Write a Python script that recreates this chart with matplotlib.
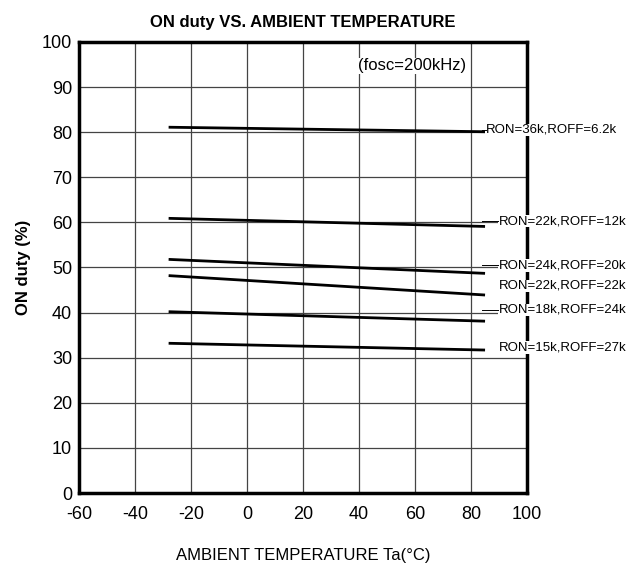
import matplotlib.pyplot as plt

plt.rcParams['font.family'] = ['Liberation Sans', 'DejaVu Sans']
plt.rcParams['axes.unicode_minus'] = False

# readings (start at -28C, end at 85C)
temps = [-28, 85]
duty_36k_6k2 = [81.1, 80.1]
duty_22k_12k = [60.9, 59.1]
duty_24k_20k = [51.8, 48.7]
duty_22k_22k = [48.2, 43.9]
duty_18k_24k = [40.2, 38.1]
duty_15k_27k = [33.2, 31.7]

series = [duty_36k_6k2, duty_22k_12k, duty_24k_20k, duty_22k_22k, duty_18k_24k, duty_15k_27k]
labels = ['RON=36k,ROFF=6.2k', 'RON=22k,ROFF=12k', 'RON=24k,ROFF=20k',
          'RON=22k,ROFF=22k', 'RON=18k,ROFF=24k', 'RON=15k,ROFF=27k']

# where each label sits (layout only)
label_pos = [(85, 80.5, True), (89.5, 60.3, True), (89.5, 50.5, True),
             (89.5, 45.9, False), (89.5, 40.6, True), (89.5, 32.2, False)]

fig = plt.figure(figsize=(6.44, 5.65), dpi=100)
ax = fig.add_axes([0.1227, 0.1274, 0.6957, 0.7983])

for y in range(10, 100, 10):
    ax.axhline(y, color='#444444', lw=0.9, zorder=1)
for x in range(-40, 100, 20):
    ax.axvline(x, color='#444444', lw=0.9, zorder=1)

for s in series:
    ax.plot(temps, s, color='black', lw=2, zorder=2, solid_capstyle='butt')

for lab, (lx, ly, lead) in zip(labels, label_pos):
    ax.text(lx + 0.3, ly, lab, fontsize=9.5, va='center', ha='left', clip_on=False, zorder=5,
            bbox=dict(facecolor='white', edgecolor='none', pad=0.3))
    if lead:
        ax.plot([84, lx + 0.3], [ly, ly], color='black', lw=0.7, clip_on=False, zorder=6)

ax.text(59, 94.7, '(fosc=200kHz)', fontsize=12, ha='center', va='center', zorder=5,
        bbox=dict(facecolor='white', edgecolor='none', pad=0.5))

ax.set_xlim(-60, 100)
ax.set_ylim(0, 100)
ax.set_xticks(range(-60, 101, 20))
ax.set_yticks(range(0, 101, 10))
ax.tick_params(length=0, labelsize=13)
ax.tick_params(axis='x', pad=9)
ax.tick_params(axis='y', pad=5)
for sp in ax.spines.values():
    sp.set_linewidth(2.5)

ax.set_title('ON duty VS. AMBIENT TEMPERATURE', fontsize=12, fontweight='bold', pad=11)
ax.set_xlabel('AMBIENT TEMPERATURE Ta(°C)', fontsize=12, labelpad=18)
ax.set_ylabel('ON duty (%)', fontsize=12, fontweight='bold', labelpad=8)

fig.savefig('out.png', dpi=100)
